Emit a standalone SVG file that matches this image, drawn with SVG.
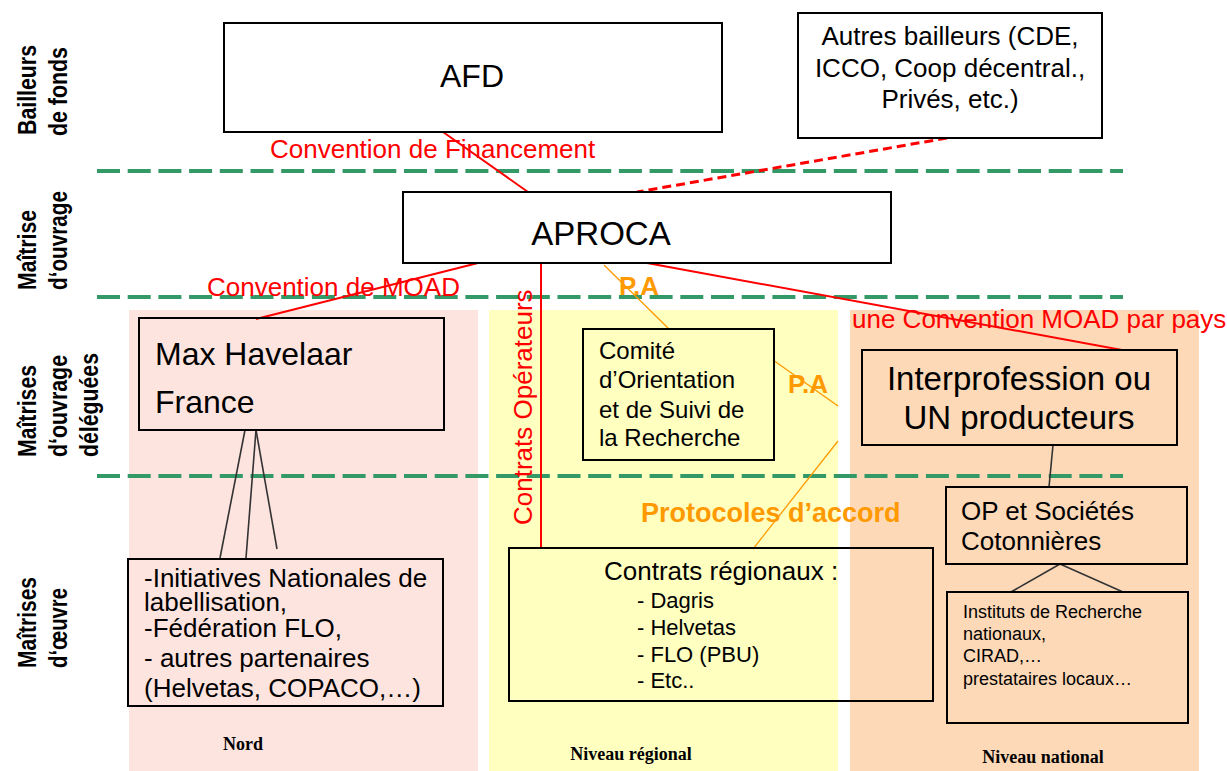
<svg xmlns="http://www.w3.org/2000/svg" width="1227" height="771" viewBox="0 0 1227 771">
<style>
.t{font-family:"Liberation Sans",Arial,sans-serif;fill:#000}
.red{font-family:"Liberation Sans",Arial,sans-serif;fill:#ff0000;font-size:26px}
.or{font-family:"Liberation Sans",Arial,sans-serif;fill:#ff9900;font-weight:bold}
.side{font-family:"Liberation Sans",Arial,sans-serif;font-weight:bold;font-size:26px;fill:#000}
.foot{font-family:"Liberation Serif","Times New Roman",serif;font-weight:bold;font-size:18px;fill:#000;text-anchor:middle}
.box{stroke:#000;stroke-width:2;fill:none}
.wbox{stroke:#000;stroke-width:2;fill:#fff}
.green{stroke:#339966;stroke-width:4;stroke-dasharray:23 7.7;fill:none}
.rl{stroke:#ff0000;stroke-width:2;fill:none}
.ol{stroke:#ff9900;stroke-width:1.3;fill:none}
.dl{stroke:#333;stroke-width:1.6;fill:none}
</style>

<rect width="1227" height="771" fill="#fff"/>

<!-- column panels -->
<rect x="129" y="310" width="349" height="461" fill="#fde4df"/>
<rect x="489" y="310" width="349" height="461" fill="#ffffc0"/>
<rect x="850" y="310" width="349" height="461" fill="#fdd9b7"/>

<!-- band separators -->
<g id="separators">
<line class="green" x1="97" y1="171" x2="1123" y2="171"/>
<line class="green" x1="97" y1="297" x2="1123" y2="297"/>
<line class="green" x1="97" y1="476" x2="1123" y2="476"/>
</g>

<!-- side labels -->
<g id="side-labels">
<text class="side" transform="translate(36,135) rotate(-90)" textLength="90" lengthAdjust="spacingAndGlyphs">Bailleurs</text>
<text class="side" transform="translate(67,136) rotate(-90)" textLength="89" lengthAdjust="spacingAndGlyphs">de fonds</text>
<text class="side" transform="translate(36,290) rotate(-90)" textLength="80" lengthAdjust="spacingAndGlyphs">Maîtrise</text>
<text class="side" transform="translate(67,290) rotate(-90)" textLength="99" lengthAdjust="spacingAndGlyphs">d‘ouvrage</text>
<text class="side" transform="translate(36,457) rotate(-90)" textLength="92" lengthAdjust="spacingAndGlyphs">Maîtrises</text>
<text class="side" transform="translate(67,457) rotate(-90)" textLength="102" lengthAdjust="spacingAndGlyphs">d‘ouvrage</text>
<text class="side" transform="translate(98,457) rotate(-90)" textLength="104" lengthAdjust="spacingAndGlyphs">déléguées</text>
<text class="side" transform="translate(36,668) rotate(-90)" textLength="91" lengthAdjust="spacingAndGlyphs">Maîtrises</text>
<text class="side" transform="translate(67,668) rotate(-90)" textLength="80" lengthAdjust="spacingAndGlyphs">d‘œuvre</text>
</g>

<!-- footer labels -->
<text class="foot" x="243" y="750">Nord</text>
<text class="foot" x="631" y="760">Niveau régional</text>
<text class="foot" x="1043" y="763">Niveau national</text>

<!-- connector labels -->
<g id="connector-labels">
<text class="red" x="270" y="158">Convention de Financement</text>
<text class="red" x="207" y="296">Convention de MOAD</text>
<text class="red" x="852" y="328">une Convention MOAD par pays</text>
<text class="red" transform="translate(532,525) rotate(-90)">Contrats Opérateurs</text>
<text class="or" x="619" y="295" font-size="26">P.A</text>
<text class="or" x="788" y="393" font-size="26">P.A</text>
<text class="or" x="641" y="522" font-size="27">Protocoles d’accord</text>
</g>

<!-- connectors -->
<g id="connectors">
<line class="rl" x1="443" y1="132" x2="528" y2="192"/>
<line x1="947" y1="138" x2="637" y2="192" stroke="#ff0000" stroke-width="3" stroke-dasharray="9 5"/>
<line class="rl" x1="478" y1="263" x2="256" y2="319"/>
<line class="rl" x1="541" y1="263" x2="541" y2="548"/>
<line class="rl" x1="647" y1="263" x2="1122" y2="350"/>
<line class="ol" x1="604" y1="265" x2="669" y2="329"/>
<line class="ol" x1="773" y1="360" x2="838" y2="406"/>
<line class="ol" x1="838" y1="441" x2="753" y2="549"/>
<line class="dl" x1="245" y1="430" x2="220" y2="558"/>
<line class="dl" x1="256" y1="430" x2="246" y2="558"/>
<line class="dl" x1="256" y1="430" x2="277" y2="549"/>
<line class="dl" x1="1053" y1="445" x2="1049" y2="487"/>
<line class="dl" x1="1060" y1="564" x2="1011" y2="592"/>
<line class="dl" x1="1060" y1="564" x2="1123" y2="592"/>
</g>

<!-- nodes -->
<g id="afd">
<rect class="wbox" x="224" y="23" width="498" height="109"/>
<text class="t" x="472" y="87" font-size="32" text-anchor="middle">AFD</text>
</g>

<g id="autres-bailleurs">
<rect class="wbox" x="798" y="13" width="304" height="125"/>
<text class="t" font-size="26" text-anchor="middle"><tspan x="950" y="45">Autres bailleurs (CDE,</tspan><tspan x="950" y="76.5">ICCO, Coop décentral.,</tspan><tspan x="950" y="108">Privés, etc.)</tspan></text>
</g>

<g id="aproca">
<rect class="wbox" x="403" y="192" width="488" height="71"/>
<text class="t" x="601" y="245" font-size="33" text-anchor="middle">APROCA</text>
</g>

<g id="max-havelaar">
<rect class="box" x="139" y="318" width="305" height="112"/>
<text class="t" font-size="32"><tspan x="155" y="365">Max Havelaar</tspan><tspan x="155" y="413">France</tspan></text>
</g>

<g id="initiatives">
<rect class="box" x="128" y="559" width="315" height="147"/>
<text class="t" font-size="26"><tspan x="144" y="587">-Initiatives Nationales de</tspan><tspan x="144" y="611">labellisation,</tspan><tspan x="144" y="637">-Fédération FLO,</tspan><tspan x="144" y="667">- autres partenaires</tspan><tspan x="144" y="697">(Helvetas, COPACO,…)</tspan></text>
</g>

<g id="comite">
<rect class="box" x="583" y="329" width="191" height="131"/>
<text class="t" font-size="24"><tspan x="599" y="359">Comité</tspan><tspan x="599" y="388">d’Orientation</tspan><tspan x="599" y="418">et de Suivi de</tspan><tspan x="599" y="446">la Recherche</tspan></text>
</g>

<g id="contrats-regionaux">
<rect class="box" x="509" y="548" width="424" height="153"/>
<text class="t" x="604" y="580" font-size="26">Contrats régionaux :</text>
<text class="t" font-size="22"><tspan x="637" y="608">- Dagris</tspan><tspan x="637" y="635">- Helvetas</tspan><tspan x="637" y="662">- FLO (PBU)</tspan><tspan x="637" y="688">- Etc..</tspan></text>
</g>

<g id="interprofession">
<rect class="box" x="862" y="350" width="315" height="95"/>
<text class="t" font-size="33" text-anchor="middle"><tspan x="1019" y="390">Interprofession ou</tspan><tspan x="1019" y="429">UN producteurs</tspan></text>
</g>

<g id="op-societes">
<rect class="box" x="946" y="487" width="241" height="77"/>
<text class="t" font-size="26"><tspan x="961" y="520">OP et Sociétés</tspan><tspan x="961" y="550">Cotonnières</tspan></text>
</g>

<g id="instituts">
<rect class="box" x="947" y="592" width="241" height="131"/>
<text class="t" font-size="18"><tspan x="963" y="618">Instituts de Recherche</tspan><tspan x="963" y="640">nationaux,</tspan><tspan x="963" y="662">CIRAD,…</tspan><tspan x="963" y="685">prestataires locaux…</tspan></text>
</g>
</svg>
